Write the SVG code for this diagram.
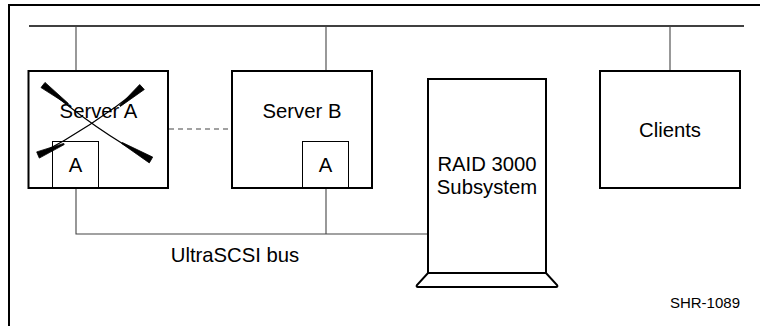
<svg xmlns="http://www.w3.org/2000/svg" width="760" height="326" viewBox="0 0 760 326">
<style>
.box{fill:#fff;stroke:#000;stroke-width:2}
.inner{fill:none;stroke:#000;stroke-width:1}
.wire{fill:none;stroke:#444;stroke-width:1.1}
.lbl{font-family:"Liberation Sans",Arial,sans-serif;font-size:20.3px;fill:#000;text-anchor:middle}
.small{font-family:"Liberation Sans",Arial,sans-serif;font-size:15px;fill:#000;text-anchor:end}
.xmark{fill:#000;stroke:#000;stroke-width:0.8;stroke-linejoin:round}
</style>
<rect width="760" height="326" fill="#fff"/>
<!-- outer frame (right and bottom edges beyond the canvas) -->
<path d="M770,5 H9 V340" fill="none" stroke="#000" stroke-width="2"/>
<g id="connectors">
  <line x1="29" y1="26" x2="744" y2="26" stroke="#000" stroke-width="1.6"/>
  <line class="wire" x1="76" y1="26" x2="76" y2="71"/>
  <line class="wire" x1="326" y1="26" x2="326" y2="71"/>
  <line class="wire" x1="670" y1="26" x2="670" y2="71"/>
  <polyline class="wire" points="76,188 76,234 428,234"/>
  <line class="wire" x1="326" y1="188" x2="326" y2="234"/>
  <line class="wire" x1="169" y1="129" x2="231" y2="129" stroke="#222" stroke-dasharray="5,4"/>
</g>
<g id="server-a">
  <rect class="box" x="28.5" y="71" width="139.5" height="117"/>
  <rect class="inner" x="52.5" y="141.5" width="46" height="46.5"/>
  <text class="lbl" x="98.5" y="118">Server A</text>
  <text class="lbl" x="75.5" y="172">A</text>
  <g id="failure-x">
    <path d="M43,85 Q95,130 151,160" fill="none" stroke="#000" stroke-width="1.1"/>
    <path d="M38,155 Q90,128 142,87" fill="none" stroke="#000" stroke-width="1.1"/>
    <polygon class="xmark" points="41,87.6 45,82.4 68.4,103.5 67.6,104.5"/>
    <polygon class="xmark" points="152.7,157.1 149.3,162.9 121.7,143.5 122.3,142.5"/>
    <polygon class="xmark" points="39.3,158.1 36.7,151.9 63.8,143.4 64.2,144.6"/>
    <polygon class="xmark" points="144.3,89.5 139.7,84.5 119.6,105.6 120.4,106.4"/>
  </g>
</g>
<g id="server-b">
  <rect class="box" x="232" y="71" width="140" height="117"/>
  <rect class="inner" x="302.5" y="141.5" width="46" height="46.5"/>
  <text class="lbl" x="302" y="118">Server B</text>
  <text class="lbl" x="325.5" y="172">A</text>
</g>
<g id="raid">
  <rect class="box" x="428" y="79" width="118" height="194"/>
  <path class="box" d="M428,273 H546 L557,285 Q558,287 556,287 H418 Q416,287 417,285 Z"/>
  <text class="lbl" x="487" y="171">RAID 3000</text>
  <text class="lbl" x="487" y="194">Subsystem</text>
</g>
<g id="clients">
  <rect class="box" x="600" y="71" width="140" height="117"/>
  <text class="lbl" x="670" y="137">Clients</text>
</g>
<text class="lbl" x="235" y="262">UltraSCSI bus</text>
<text class="small" x="740" y="308">SHR-1089</text>
</svg>
